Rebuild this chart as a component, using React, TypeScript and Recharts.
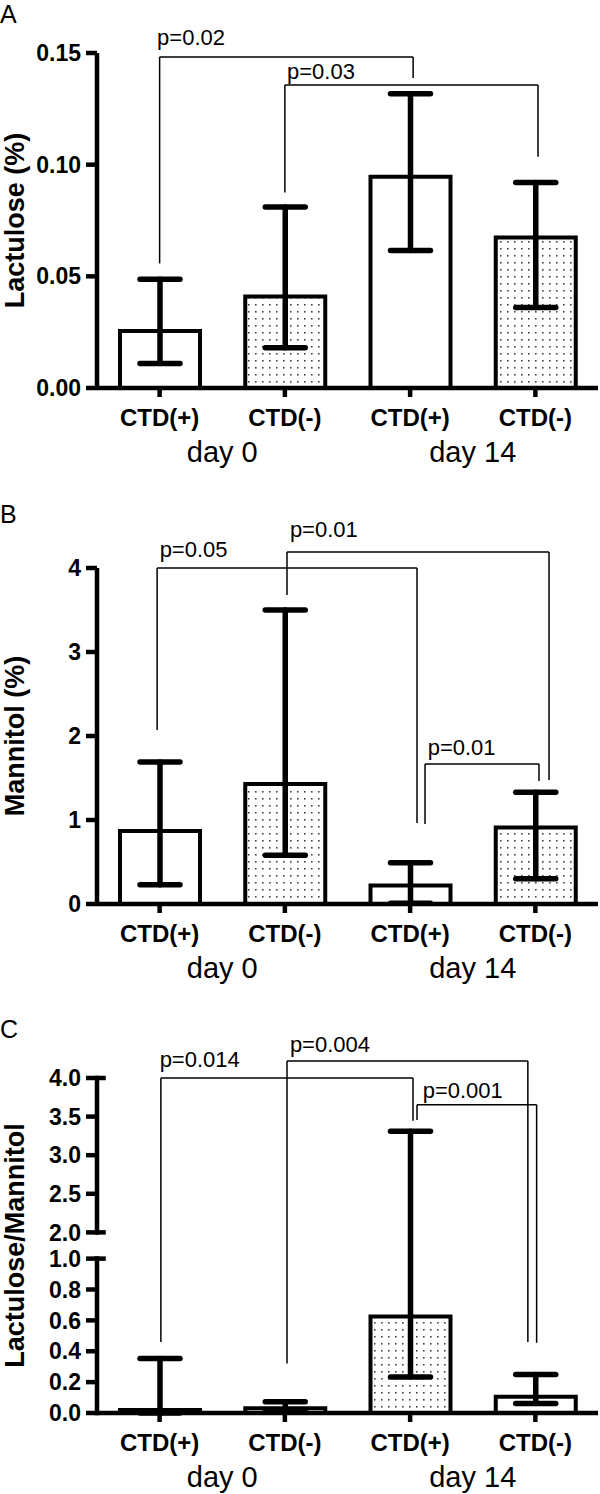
import React from 'react';
import { BarChart, Bar, XAxis, YAxis, ErrorBar, Cell, ReferenceLine, ReferenceDot } from 'recharts';

const FONT = '"Liberation Sans", Arial, Helvetica, sans-serif';

// categories
const groups = ['CTD(+)', 'CTD(-)', 'CTD(+)', 'CTD(-)'];
const days = ['day 0', 'day 0', 'day 14', 'day 14'];

// A: lactulose (%)
const lactMean = [0.0255, 0.041, 0.0946, 0.0674];
const lactLow = [0.011, 0.018, 0.0616, 0.036];
const lactHigh = [0.0487, 0.081, 0.1317, 0.092];
const lactTicks = [0, 0.05, 0.1, 0.15];
const lactDotted = [false, true, false, true];

// B: mannitol (%)
const mannMean = [0.87, 1.43, 0.22, 0.91];
const mannLow = [0.23, 0.58, 0.01, 0.3];
const mannHigh = [1.69, 3.5, 0.49, 1.33];
const mannTicks = [0, 1, 2, 3, 4];
const mannDotted = [false, true, false, true];

// C: lactulose/mannitol (broken axis)
const ratioMean = [0.02, 0.03, 0.625, 0.106];
const ratioLow = [0, 0.01, 0.234, 0.062];
const ratioHigh = [0.353, 0.073, 3.31, 0.25];
const ratioTicksLower = [0, 0.2, 0.4, 0.6, 0.8, 1.0];
const ratioTicksUpper = [2.0, 2.5, 3.0, 3.5, 4.0];
const ratioDotted = [false, true, true, false];

// significance brackets: x in category units (0..4, centres at i + 0.5), y in data units
const lactBrackets = [
  { p: 'p=0.02', x1: 0.5, x2: 2.524, top: 0.1482, y1: 0.0558, y2: 0.1388, tx: 0.48, ty: 0.1536 },
  { p: 'p=0.03', x1: 1.5, x2: 3.521, top: 0.1357, y1: 0.0875, y2: 0.1036, tx: 1.517, ty: 0.1384 },
];
const mannBrackets = [
  { p: 'p=0.05', x1: 0.48, x2: 2.555, top: 4.0, y1: 2.07, y2: 0.964, tx: 0.5, ty: 4.135 },
  { p: 'p=0.01', x1: 1.517, x2: 3.609, top: 4.19, y1: 3.68, y2: 1.476, tx: 1.54, ty: 4.365 },
  { p: 'p=0.01', x1: 2.619, x2: 3.529, top: 1.667, y1: 0.952, y2: 1.464, tx: 2.64, ty: 1.774 },
];
const ratioBrackets = [
  { p: 'p=0.014', x1: 0.51, x2: 2.523, top: 4.0, y1: 0.46, y2: 3.445, tx: 0.5, ty: 4.145 },
  { p: 'p=0.004', x1: 1.517, x2: 3.44, top: 4.22, y1: 0.32, y2: 0.46, tx: 1.54, ty: 4.34 },
  { p: 'p=0.001', x1: 2.555, x2: 3.51, top: 3.654, y1: 3.456, y2: 0.455, tx: 2.6, ty: 3.742 },
];

// broken axis for C: 0..1 at full scale, 2..4 at half scale above a gap
const GAP = 0.17;
const brk = (v: number) => (v <= 1 ? v : 1 + GAP + (v - 2) / 2);
const unbrk = (t: number) => (t <= 1.0001 ? t : 2 + (t - 1 - GAP) * 2);
const same = (v: number) => v;

type Bracket = { p: string; x1: number; x2: number; top: number; y1: number; y2: number; tx: number; ty: number };

const black = '#000';

function Panel(props: {
  top: number;
  height: number;
  marginTop: number;
  marginBottom: number;
  mean: number[];
  low: number[];
  high: number[];
  dotted: boolean[];
  domain: [number, number];
  ticks: number[];
  fmt: (v: number) => string;
  yLabel: string;
  brackets: Bracket[];
  map: (v: number) => number;
  broken?: boolean;
}) {
  const { map } = props;
  const data = groups.map((g, i) => {
    const v = map(props.mean[i]);
    return {
      group: g,
      day: days[i],
      pos: i + 0.5,
      value: v,
      err: [v - map(props.low[i]), map(props.high[i]) - v],
    };
  });

  const thin = { stroke: black, strokeWidth: 1.5, ifOverflow: 'visible' as const, xAxisId: 'n' };

  return (
    <div style={{ position: 'absolute', left: 0, top: props.top }}>
      <BarChart
        width={600}
        height={props.height}
        data={data}
        margin={{ top: props.marginTop, right: 2, left: 0, bottom: props.marginBottom }}
        barCategoryGap={0}
      >
        <XAxis
          dataKey="group"
          interval={0}
          axisLine={{ stroke: black, strokeWidth: 4.5 }}
          tickLine={{ stroke: black, strokeWidth: 4.5 }}
          tickSize={9}
          tickMargin={12}
          height={45}
          tick={{ fill: black, fontSize: 24, fontWeight: 'bold', fontFamily: FONT }}
        />
        <XAxis
          xAxisId="day"
          dataKey="day"
          allowDuplicatedCategory={false}
          interval={0}
          axisLine={false}
          tickLine={false}
          tickSize={0}
          tickMargin={8}
          height={36}
          tick={{ fill: black, fontSize: 29, fontFamily: FONT }}
        />
        <XAxis xAxisId="n" dataKey="pos" type="number" domain={[0, 4]} allowDataOverflow hide />
        <YAxis
          width={97}
          domain={props.domain}
          ticks={props.ticks}
          interval={0}
          allowDataOverflow
          tickFormatter={props.fmt}
          axisLine={props.broken ? false : { stroke: black, strokeWidth: 4.5 }}
          tickLine={{ stroke: black, strokeWidth: 4.5 }}
          tickSize={11}
          tickMargin={5}
          tick={{ fill: black, fontSize: 23, fontWeight: 'bold', fontFamily: FONT }}
          label={{
            value: props.yLabel,
            angle: -90,
            position: 'insideLeft',
            offset: 14,
            style: { textAnchor: 'middle', fontSize: 27, fontWeight: 'bold', fontFamily: FONT, fill: black },
          }}
        />
        <Bar dataKey="value" barSize={80} stroke={black} strokeWidth={4} isAnimationActive={false}>
          {data.map((d, i) => (
            <Cell key={i} fill={props.dotted[i] ? 'url(#dots)' : '#fff'} />
          ))}
          <ErrorBar
            dataKey="err"
            direction="y"
            width={20}
            stroke={black}
            strokeWidth={5.5}
            strokeLinecap="round"
            isAnimationActive={false}
          />
        </Bar>
        {props.broken && (
          <ReferenceLine
            xAxisId="n"
            segment={[{ x: 0, y: 0 }, { x: 0, y: brk(1) }]}
            stroke={black}
            strokeWidth={4.5}
            strokeLinecap="square"
          />
        )}
        {props.broken && (
          <ReferenceLine
            xAxisId="n"
            segment={[{ x: 0, y: brk(2) }, { x: 0, y: brk(4) }]}
            stroke={black}
            strokeWidth={4.5}
            strokeLinecap="square"
          />
        )}
        {props.broken &&
          [1, 2, 4].map((v) => (
            <ReferenceLine
              key={'cap' + v}
              xAxisId="n"
              segment={[{ x: 0, y: brk(v) }, { x: 0.07, y: brk(v) }]}
              stroke={black}
              strokeWidth={4.5}
            />
          ))}
        {props.brackets.map((b, i) => [
          <ReferenceLine key={'l' + i} {...thin} segment={[{ x: b.x1, y: map(b.y1) }, { x: b.x1, y: map(b.top) }]} />,
          <ReferenceLine key={'t' + i} {...thin} segment={[{ x: b.x1, y: map(b.top) }, { x: b.x2, y: map(b.top) }]} />,
          <ReferenceLine key={'r' + i} {...thin} segment={[{ x: b.x2, y: map(b.top) }, { x: b.x2, y: map(b.y2) }]} />,
          <ReferenceDot
            key={'p' + i}
            xAxisId="n"
            x={b.tx}
            y={map(b.ty)}
            r={0}
            fill="none"
            stroke="none"
            ifOverflow="visible"
            label={(lp: any) => (
              <text x={lp.viewBox.x} y={lp.viewBox.y} fontSize={22} fontFamily={FONT} fill={black}>
                {b.p}
              </text>
            )}
          />,
        ])}
      </BarChart>
    </div>
  );
}

export default function App() {
  return (
    <div style={{ position: 'absolute', left: 0, top: 0, width: 600, height: 1494, background: '#fff', overflow: 'hidden' }}>
      <svg width={0} height={0} style={{ position: 'absolute' }}>
        <defs>
          <pattern id="dots" width={7} height={7} patternUnits="userSpaceOnUse">
            <rect width={7} height={7} fill="#fff" />
            <rect x={3} y={3} width={1.6} height={1.6} fill="#444" />
          </pattern>
        </defs>
      </svg>
      <Panel
        top={0}
        height={480}
        marginTop={53}
        marginBottom={11}
        mean={lactMean}
        low={lactLow}
        high={lactHigh}
        dotted={lactDotted}
        domain={[0, 0.15]}
        ticks={lactTicks}
        fmt={(v) => v.toFixed(2)}
        yLabel="Lactulose (%)"
        brackets={lactBrackets}
        map={same}
      />
      <Panel
        top={480}
        height={510}
        marginTop={88}
        marginBottom={5}
        mean={mannMean}
        low={mannLow}
        high={mannHigh}
        dotted={mannDotted}
        domain={[0, 4]}
        ticks={mannTicks}
        fmt={(v) => String(v)}
        yLabel="Mannitol (%)"
        brackets={mannBrackets}
        map={same}
      />
      <Panel
        top={990}
        height={504}
        marginTop={88}
        marginBottom={0}
        mean={ratioMean}
        low={ratioLow}
        high={ratioHigh}
        dotted={ratioDotted}
        domain={[0, brk(4)]}
        ticks={[...ratioTicksLower, ...ratioTicksUpper].map(brk)}
        fmt={(v) => unbrk(v).toFixed(1)}
        yLabel="Lactulose/Mannitol"
        brackets={ratioBrackets}
        map={brk}
        broken
      />
      <svg width={600} height={1494} style={{ position: 'absolute', left: 0, top: 0, pointerEvents: 'none' }}>
        <text x={0} y={23} fontSize={25} fontFamily={FONT} fill={black}>A</text>
        <text x={0} y={523} fontSize={25} fontFamily={FONT} fill={black}>B</text>
        <text x={0} y={1038} fontSize={25} fontFamily={FONT} fill={black}>C</text>
      </svg>
    </div>
  );
}
